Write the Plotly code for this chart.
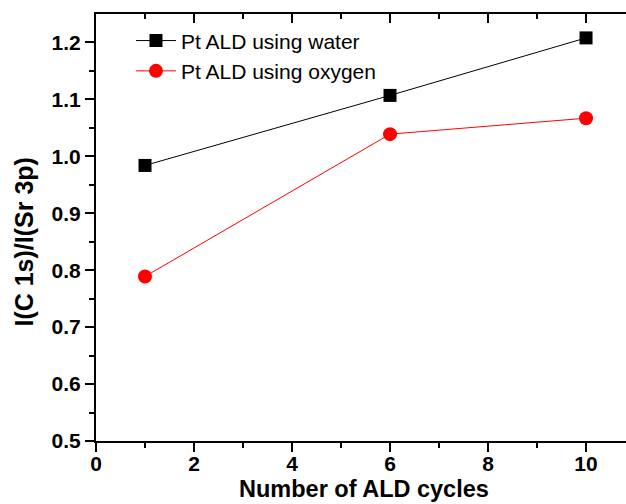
import plotly.graph_objects as go

cycles = [1, 6, 10]
water = [0.984, 1.107, 1.208]
oxygen = [0.789, 1.039, 1.067]
series_names = ["Pt ALD using water", "Pt ALD using oxygen"]

W, H = 626, 504
L, R, T, B = 95.5, 0, 14, 63
pw, ph = W - L - R, H - T - B

fig = go.Figure()
fig.add_trace(go.Scatter(x=cycles, y=water, mode="lines+markers", name=series_names[0],
                         line=dict(color="black", width=1),
                         marker=dict(symbol="square", size=13, color="black")))
fig.add_trace(go.Scatter(x=cycles, y=oxygen, mode="lines+markers", name=series_names[1],
                         line=dict(color="#ff0000", width=1),
                         marker=dict(symbol="circle", size=14, color="#ff0000")))

tickfont = dict(family="Liberation Sans, Arial", size=21, color="black")
xr = [0, pw / 49.05]
fig.update_layout(
    width=W, height=H,
    margin=dict(l=L, r=R, t=T, b=B, pad=0),
    paper_bgcolor="white", plot_bgcolor="white",
    showlegend=True,
    legend=dict(x=0.066, y=0.985, xanchor="left", yanchor="top",
                font=dict(family="Liberation Sans, Arial", size=21, color="black"),
                bgcolor="rgba(0,0,0,0)", tracegroupgap=0, itemwidth=40),
    xaxis=dict(range=xr, showgrid=False, zeroline=False, showline=True, linecolor="black", linewidth=2,
               ticks="outside", ticklen=9, tickwidth=2, tickcolor="black",
               tickvals=[0, 2, 4, 6, 8, 10], ticktext=["<b>%d</b>" % v for v in [0, 2, 4, 6, 8, 10]],
               tickfont=tickfont, ticklabelstandoff=-6,
               minor=dict(tickvals=[1, 3, 5, 7, 9], ticks="outside", ticklen=5, tickwidth=2, tickcolor="black")),
    xaxis2=dict(range=xr, overlaying="x", side="top", showgrid=False, zeroline=False, showline=True,
                linecolor="black", linewidth=2, ticks="inside", ticklen=9, tickwidth=2, tickcolor="black",
                tickvals=[0, 2, 4, 6, 8, 10], showticklabels=False,
                minor=dict(tickvals=[1, 3, 5, 7, 9], ticks="inside", ticklen=5, tickwidth=2, tickcolor="black")),
    yaxis=dict(range=[0.5, 1.25], showgrid=False, zeroline=False, showline=True, linecolor="black", linewidth=2,
               ticks="outside", ticklen=9, tickwidth=2, tickcolor="black",
               tickvals=[0.5, 0.6, 0.7, 0.8, 0.9, 1.0, 1.1, 1.2],
               ticktext=["<b>%.1f</b>" % v for v in [0.5, 0.6, 0.7, 0.8, 0.9, 1.0, 1.1, 1.2]],
               tickfont=tickfont,
               minor=dict(tickvals=[0.55, 0.65, 0.75, 0.85, 0.95, 1.05, 1.15], ticks="outside",
                          ticklen=5, tickwidth=2, tickcolor="black")),
)
# invisible trace to activate top axis
fig.add_trace(go.Scatter(x=[None], y=[None], xaxis="x2", showlegend=False, hoverinfo="skip"))

fig.add_annotation(text="<b>Number of ALD cycles</b>", xref="paper", yref="paper",
                   x=(364 - L) / pw, y=(441 - 504) / ph, xanchor="center", yanchor="bottom",
                   showarrow=False, font=dict(family="Liberation Sans, Arial", size=23.5, color="black"))
fig.add_annotation(text="<b>I(C 1s)/I(Sr 3p)</b>", xref="paper", yref="paper",
                   x=(23 - L) / pw, y=(441 - 242) / ph, xanchor="center", yanchor="middle",
                   textangle=-90, showarrow=False,
                   font=dict(family="Liberation Sans, Arial", size=25, color="black"))

fig.write_html("out.html")
